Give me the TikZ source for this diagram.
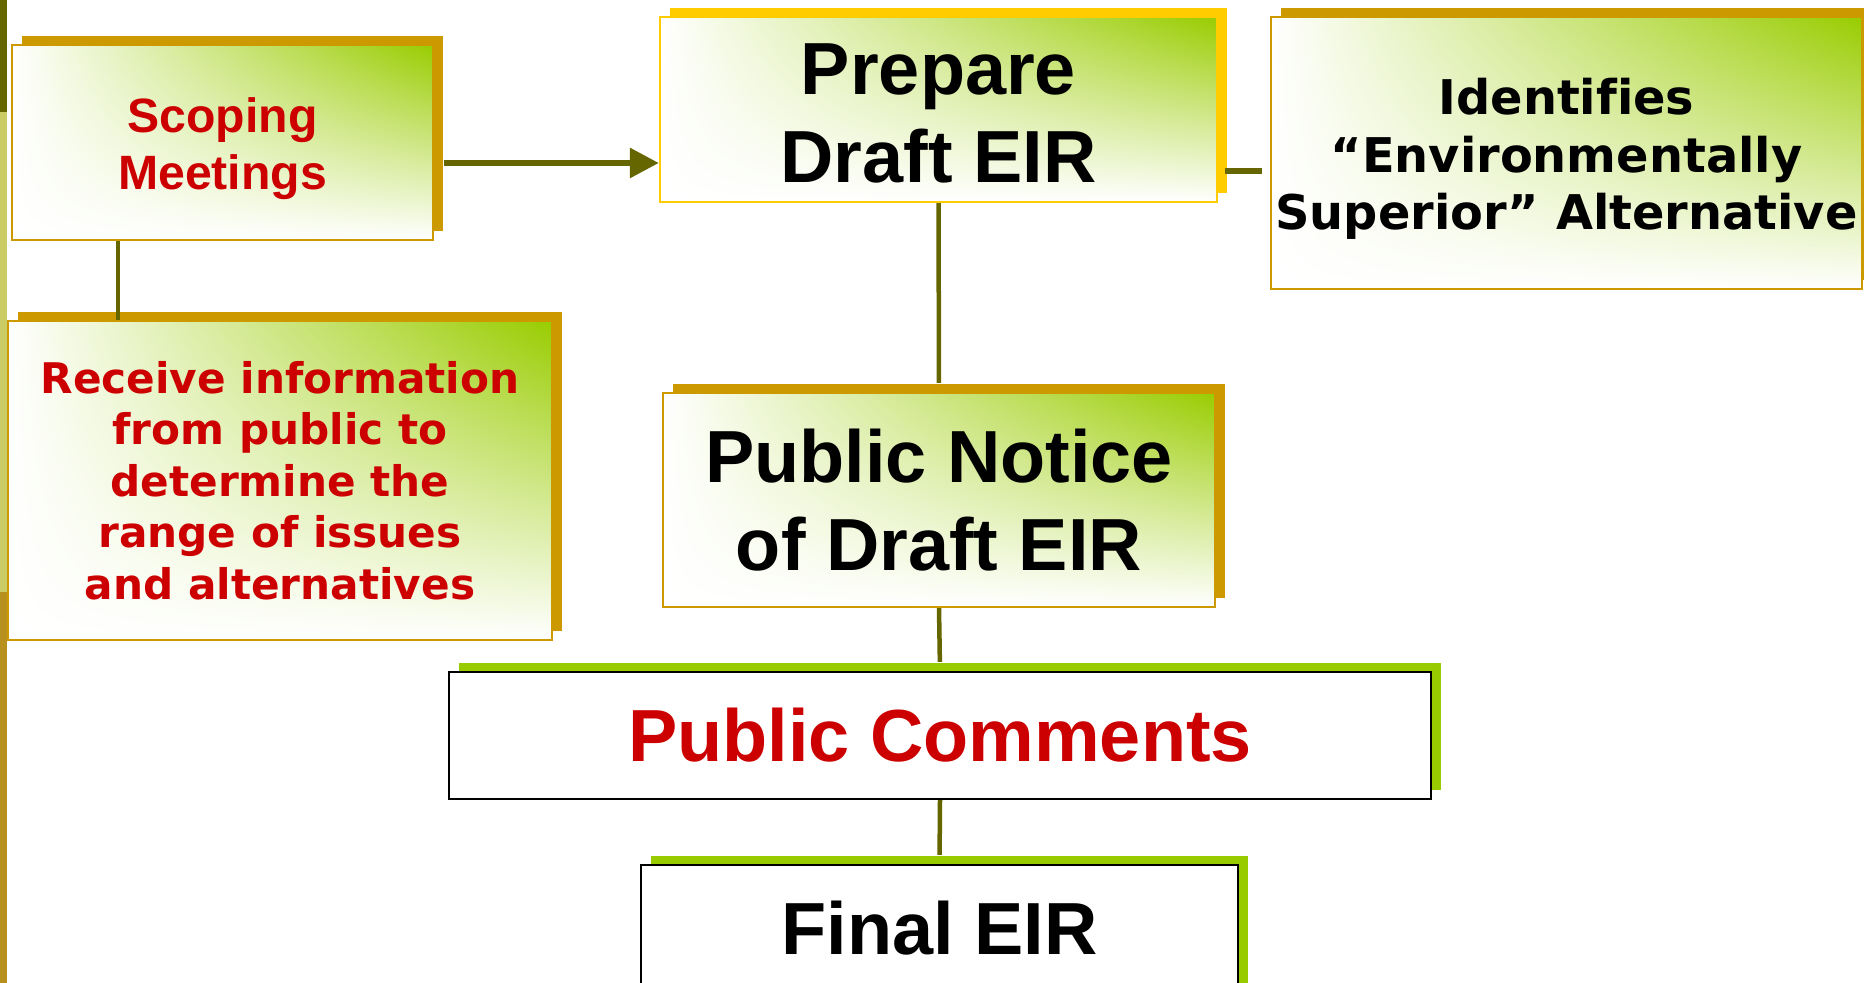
\documentclass[tikz,border=0pt]{standalone}
\usepackage{fontspec}
\setmainfont{Liberation Sans}
\newfontfamily\verdfont[Ligatures=NoCommon]{DejaVu Sans}
\usetikzlibrary{positioning}
\usetikzlibrary{shadows}
\usetikzlibrary{shadings}
\usetikzlibrary{arrows.meta}
\definecolor{boxgold}{HTML}{CC9900}
\definecolor{boxyellow}{HTML}{FFCC00}
\definecolor{boxgreen}{HTML}{99CC00}
\definecolor{connolive}{HTML}{666600}
\definecolor{textred}{HTML}{CC0000}
\definecolor{barlight}{HTML}{CCCC66}
\definecolor{barbrown}{HTML}{B8901E}
\newcommand\shadowx{0.10cm}
\newcommand\shadowy{0.09cm}

\begin{document}
\begin{tikzpicture}[x=0.01cm, y=-0.01cm,
    greenbox/.style={draw=#1, line width=0.02cm, inner sep=0pt, align=center,
        upper right=boxgreen, upper left=white, lower left=white, lower right=white,
        general shadow={fill=#1, shadow xshift=\shadowx, shadow yshift=\shadowy}},
    plainbox/.style={draw=black, line width=0.02cm, fill=white, inner sep=0pt, align=center,
        general shadow={fill=boxgreen, shadow xshift=\shadowx, shadow yshift=\shadowy}},
    conn/.style={connolive, line width=0.045cm},
    bigtext/.style={font=\fontsize{21}{25}\selectfont\bfseries},
  ]
    \useasboundingbox (0,0) rectangle (1864,983);
    % --- Side bar
    \fill[connolive] (0,0) rectangle (7,112);
    \fill[barlight] (0,112) rectangle (7,592);
    \fill[barbrown] (0,592) rectangle (7,983);
    % --- Boxes
    \node[greenbox=boxgold, minimum width=4.21cm, minimum height=1.95cm, text=textred, text height=29.6pt,
        font=\fontsize{13.7}{16.2}\selectfont\bfseries] (scope) at (222.5,142.5) {Scoping\\Meetings};
    \node[greenbox=boxyellow, minimum width=5.57cm, minimum height=1.85cm, bigtext, text height=41.7pt] (prep) at (938.5,109.5) {Prepare\\Draft EIR};
    \node[greenbox=boxgold, minimum width=5.91cm, minimum height=2.72cm, text height=46.5pt,
        font=\verdfont\fontsize{13.6}{16.4}\selectfont\bfseries] (ident) at (1566.5,153) {Identifies\\“Environmentally\\Superior” Alternative};
    \node[greenbox=boxgold, minimum width=5.44cm, minimum height=3.19cm, text=textred,
        font=\verdfont\fontsize{12}{14.65}\selectfont\bfseries] (recv) at (280,480.5) {Receive information\\from public to\\determine the\\range of issues\\and alternatives};
    \node[greenbox=boxgold, minimum width=5.52cm, minimum height=2.14cm, bigtext] (notice) at (939,500) {Public Notice\\of Draft EIR};
    \node[plainbox, minimum width=9.82cm, minimum height=1.27cm, bigtext, text=textred] (comm) at (940,735.5) {Public Comments};
    \node[plainbox, minimum width=5.97cm, minimum height=1.27cm, bigtext] (final) at (939.5,928.5) {Final EIR};
    % --- Connectors
    \draw[conn, line width=0.06cm, shorten <=\shadowx, -{Triangle[length=0.29cm, width=0.29cm]}] (scope.east |- 0,163) -- (prep.west |- 0,163);
    \draw[conn, line width=0.06cm, shorten <=0.07cm, shorten >=0.08cm] (prep.east |- 0,171) -- (ident.west |- 0,171);
    \draw[conn] (scope.south -| 118,0) -- (recv.north -| 118,0);
    \draw[conn, shorten >=\shadowy] (prep.south) -- (notice.north);
    \draw[conn, shorten >=\shadowy] (notice.south) -- (comm.north);
    \draw[conn, shorten >=\shadowy] (comm.south) -- (final.north);
\end{tikzpicture}
\end{document}
